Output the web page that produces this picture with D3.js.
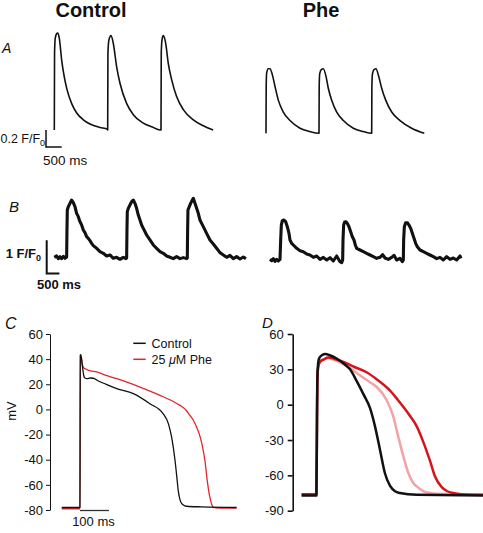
<!DOCTYPE html>
<html><head><meta charset="utf-8">
<script src="https://cdn.jsdelivr.net/npm/d3@7"></script>
<style>
body{margin:0;background:#fff;}
text{font-family:"Liberation Sans",Arial,Helvetica,sans-serif;fill:#111;}
</style></head>
<body><svg id="c" width="483" height="533"></svg>
<script>
// ---------- DATA ----------
const titles = ["Control", "Phe"];
const panelLetters = ["A", "B", "C", "D"];
// Panel A: [time ms, F/F0]
const aControl = [[0,1.0],[8,1.9],[30,2.08],[70,2.13],[108,2.14],[159,2.08],[236,1.82],[287,1.69],[395,1.49],[554,1.31],[713,1.20],[924,1.12],[1137,1.07],[1455,1.03],[1690,1.01],
 [1700,1.0],[1708,1.9],[1740,2.06],[1806,2.11],[1879,2.02],[1987,1.74],[2092,1.55],[2306,1.31],[2516,1.18],[2834,1.08],[3153,1.03],[3390,1.0],
 [3398,1.0],[3406,1.9],[3430,2.06],[3471,2.11],[3548,2.02],[3631,1.78],[3739,1.59],[3898,1.39],[4108,1.24],[4427,1.12],[4745,1.05],[5060,1.0]];
const aPhe = [[0,1.0],[6,1.55],[21,1.71],[73,1.76],[127,1.76],[201,1.69],[287,1.55],[392,1.39],[551,1.25],[764,1.15],[1083,1.06],[1401,1.02],[1685,1.0],
 [1688,1.0],[1694,1.55],[1710,1.70],[1760,1.75],[1825,1.76],[1911,1.67],[1984,1.53],[2092,1.39],[2252,1.25],[2463,1.15],[2780,1.06],[3099,1.02],[3362,1.0],
 [3366,1.0],[3372,1.55],[3390,1.70],[3440,1.75],[3503,1.76],[3589,1.67],[3684,1.53],[3812,1.39],[4003,1.25],[4268,1.15],[4640,1.06],[5041,1.0]];
// Panel B: [time ms, F/F0]
const bControl = [[0,1.0],[92,1.04],[157,0.96],[223,1.02],[289,0.96],[354,1.03],[420,0.97],[486,1.01],[499,1.82],[512,2.42],[551,2.52],[617,2.62],[682,2.72],[748,2.64],[814,2.52],[879,2.32],[945,2.22],[1010,2.07],[1076,1.97],[1142,1.82],[1207,1.74],[1273,1.62],[1339,1.57],[1404,1.50],[1470,1.42],[1535,1.35],[1667,1.27],[1798,1.17],[1929,1.12],[2060,1.04],[2192,1.07],[2323,0.97],[2454,1.0],[2585,0.94],[2717,1.0],[2822,0.96],
 [2848,0.98],[2861,1.82],[2874,2.37],[2913,2.47],[2979,2.57],[3045,2.67],[3110,2.72],[3176,2.62],[3241,2.47],[3307,2.27],[3373,2.12],[3438,1.97],[3504,1.87],[3635,1.67],[3766,1.52],[3898,1.37],[4029,1.27],[4160,1.17],[4291,1.12],[4423,1.04],[4554,1.0],[4685,0.96],[4816,1.02],[4948,0.96],[5079,0.99],[5210,0.96],
 [5236,0.98],[5249,1.82],[5262,2.42],[5315,2.52],[5367,2.62],[5420,2.70],[5472,2.77],[5538,2.62],[5604,2.47],[5669,2.32],[5735,2.12],[5801,2.02],[5866,1.92],[5997,1.72],[6129,1.52],[6260,1.40],[6391,1.27],[6522,1.14],[6654,1.07],[6785,1.0],[6916,1.06],[7047,0.96],[7178,1.02],[7310,0.95],[7441,1.01],[7546,0.96]];
const bPhe = [[0,1.02],[66,0.98],[131,1.04],[197,0.96],[262,1.02],[328,0.97],[394,1.02],[420,1.60],[446,2.05],[486,2.18],[551,2.20],[617,2.15],[682,2.0],[748,1.80],[787,1.60],[853,1.50],[919,1.45],[1050,1.35],[1181,1.28],[1312,1.25],[1444,1.18],[1575,1.15],[1706,1.08],[1837,1.12],[1969,1.02],[2100,1.08],[2231,1.0],[2362,1.07],[2493,0.97],[2625,1.12],[2756,0.95],[2822,0.92],
 [2861,1.0],[2874,1.6],[2900,2.05],[2940,2.14],[2992,2.15],[3045,2.10],[3110,2.0],[3176,1.85],[3241,1.70],[3307,1.60],[3360,1.45],[3412,1.35],[3543,1.30],[3675,1.25],[3806,1.20],[3937,1.15],[4068,1.10],[4199,1.05],[4331,1.08],[4436,1.16],[4528,1.06],[4659,1.02],[4790,1.08],[4882,1.14],[4987,1.0],[5118,1.05],[5210,0.95],
 [5249,1.0],[5262,1.6],[5289,2.0],[5341,2.12],[5407,2.12],[5472,2.05],[5538,1.95],[5604,1.80],[5669,1.65],[5735,1.50],[5801,1.40],[5906,1.30],[6037,1.25],[6168,1.20],[6299,1.15],[6430,1.10],[6562,1.04],[6693,1.08],[6824,1.0],[6955,1.10],[7087,1.02],[7218,1.06],[7349,1.0],[7480,1.12],[7520,1.05]];
// Panel C: [time ms, mV]
const cControl = [[-63,-78],[-1,-78],[0,-78],[1,43],[3,43.5],[8,35],[13,27],[17,25],[25,24.5],[35,25],[46,24.8],[60,23],[90,20],[127,16.5],[184,12.5],[241,4.5],[287,-3.5],[305,-11.5],[316,-22],[328,-41],[334,-54],[339,-65],[345,-72],[351,-75],[360,-76.5],[368,-77],[420,-77.5],[540,-78]];
const cPhe = [[-63,-79],[0,-79],[1,43],[4,42],[8,36],[13,33],[17,32.5],[30,31],[58,29.8],[90,27],[127,24.5],[207,17.8],[276,11.2],[320,6.5],[345,3.2],[365,-0.5],[379,-4.8],[392,-9],[402,-14],[412,-20],[420,-27],[431,-41],[439,-57],[448,-70],[455,-76],[460,-78],[480,-78.5],[540,-78.5]];
const cTicks = [-80,-60,-40,-20,0,20,40,60];
const legendLabels = ["Control", "25 μM Phe"];
// Panel D: [time ms, mV]
const dControl = [[-52,-77],[-1,-77],[1,-20],[2,20],[4,32],[6,37],[10,40],[18,42],[30,43],[45,42],[70,39],[95,34.5],[115,30],[138,20],[161,9],[184,-3],[201,-18.4],[218,-38],[235,-58],[253,-69],[270,-73.5],[287,-75],[345,-76.5],[574,-77]];
const dPheLight = [[-52,-76],[-1,-76],[1,-10],[3,25],[6,33],[12,36.5],[25,38.5],[40,39.6],[60,38],[80,36],[110,32],[149,25],[184,19],[207,15],[241,4],[264,-10],[281,-27],[299,-44],[316,-58],[333,-66.5],[345,-69.4],[368,-73.5],[391,-75],[414,-75.6],[574,-76.5]];
const dPheDark = [[-52,-76],[-1,-76],[1,-10],[3,25],[6,33],[12,36.5],[25,38.5],[40,40],[60,39],[90,36.5],[130,32],[172,27.5],[210,21],[253,12],[280,4],[299,-2],[320,-9],[345,-18.4],[368,-32],[391,-48],[408,-61],[431,-70],[450,-73.5],[471,-75],[500,-76],[574,-76.5]];
const dTicks = [-90,-60,-30,0,30,60];

// ---------- DRAW ----------
const svg = d3.select("#c");
const RED = "#e0262b", DARK = "#d7141c", PINK = "#f3a2a5";

function trace(data, x, y, color, w, smooth) {
  const ln = d3.line().x(d => x(d[0])).y(d => y(d[1]));
  if (smooth) ln.curve(d3.curveMonotoneX);
  svg.append("path").datum(data)
    .attr("d", ln)
    .attr("fill", "none").attr("stroke", color).attr("stroke-width", w)
    .attr("stroke-linejoin", "round").attr("stroke-linecap", "butt");
}

// titles
svg.append("text").attr("x", 91).attr("y", 17).attr("text-anchor", "middle")
  .attr("font-size", 20).attr("font-weight", "bold").text(titles[0]);
svg.append("text").attr("x", 321).attr("y", 17).attr("text-anchor", "middle")
  .attr("font-size", 20).attr("font-weight", "bold").text(titles[1]);

// panel letters
const letterPos = [[2, 53, 14], [9, 212, 15], [5, 329, 16], [262, 328, 15]];
panelLetters.forEach((L, i) => {
  svg.append("text").attr("x", letterPos[i][0]).attr("y", letterPos[i][1])
    .attr("font-size", letterPos[i][2]).attr("font-style", "italic").text(L);
});

// ---- Panel A ----
const axC = d3.scaleLinear().domain([0, 5000]).range([54.3, 211.3]);
const ayC = d3.scaleLinear().domain([1, 2]).range([130, 45]);
const axP = d3.scaleLinear().domain([0, 5000]).range([266, 423]);
const ayP = d3.scaleLinear().domain([1, 2]).range([133.3, 48.3]);
trace(aControl, axC, ayC, "#111", 1.6, true);
trace(aPhe, axP, ayP, "#111", 1.6, true);
// scale bar A: 0.2 F/F0, 500 ms
{
  const x0 = 46, yb = 147;
  const h = ayC(1) - ayC(1.2), w = axC(500) - axC(0);
  svg.append("path").attr("d", `M${x0},${yb - h}V${yb}H${x0 + w}`)
    .attr("fill", "none").attr("stroke", "#111").attr("stroke-width", 1.5);
  const t = svg.append("text").attr("x", 0.5).attr("y", 143).attr("font-size", 12.5);
  t.append("tspan").text("0.2 F/F");
  t.append("tspan").attr("font-size", 9).attr("dy", 3).text("0");
  svg.append("text").attr("x", 43).attr("y", 165).attr("font-size", 13.5).text("500 ms");
}

// ---- Panel B ----
const bxC = d3.scaleLinear().domain([0, 7500]).range([54.3, 244.8]);
const byC = d3.scaleLinear().domain([1, 2]).range([257.3, 224]);
const bxP = d3.scaleLinear().domain([0, 7500]).range([270, 460.5]);
const byP = d3.scaleLinear().domain([1, 2]).range([260, 226.7]);
trace(bControl, bxC, byC, "#111", 3.1, false);
trace(bPhe, bxP, byP, "#111", 3.1, false);
{
  const x0 = 46.7, yb = 273.5;
  const h = byC(1) - byC(2), w = bxC(500) - bxC(0);
  svg.append("path").attr("d", `M${x0},${yb - h}V${yb}H${x0 + w}`)
    .attr("fill", "none").attr("stroke", "#111").attr("stroke-width", 2);
  const t = svg.append("text").attr("x", 41).attr("y", 258).attr("text-anchor", "end")
    .attr("font-size", 13).attr("font-weight", "bold");
  t.append("tspan").text("1 F/F");
  t.append("tspan").attr("font-size", 9).attr("dy", 3).text("0");
  svg.append("text").attr("x", 37).attr("y", 289).attr("font-size", 13).attr("font-weight", "bold").text("500 ms");
}

// ---- Panel C ----
const cx = d3.scaleLinear().domain([-63, 540]).range([61.7, 236.6]);
const cy = d3.scaleLinear().domain([-80, 60]).range([510, 334]);
const cAxis = svg.append("g").attr("transform", "translate(50,0)")
  .call(d3.axisLeft(cy).tickValues(cTicks).tickSize(4).tickSizeOuter(0).tickPadding(3).tickFormat(d => String(d)));
cAxis.selectAll("text").attr("font-size", 13).attr("font-family", null).attr("fill", "#111");
cAxis.selectAll("line,path").attr("stroke", "#111").attr("stroke-width", 1);
svg.append("text").attr("transform", "translate(16,411) rotate(-90)").attr("text-anchor", "middle")
  .attr("font-size", 13).text("mV");
trace(cPhe, cx, cy, RED, 1.3, true);
trace(cControl, cx, cy, "#111", 1.3, true);
// 100 ms bar
svg.append("line").attr("x1", cx(0)).attr("x2", cx(100)).attr("y1", 510.5).attr("y2", 510.5)
  .attr("stroke", "#333").attr("stroke-width", 1.3);
svg.append("text").attr("x", (cx(0) + cx(100)) / 2 - 1).attr("y", 526).attr("text-anchor", "middle")
  .attr("font-size", 13).text("100 ms");
// legend
[[343.3, "#111"], [359.3, RED]].forEach((p, i) => {
  svg.append("line").attr("x1", 133.3).attr("x2", 145.7).attr("y1", p[0]).attr("y2", p[0])
    .attr("stroke", p[1]).attr("stroke-width", 1.5);
});
svg.append("text").attr("x", 151.5).attr("y", 347.5).attr("font-size", 12.5).text(legendLabels[0]);
{
  const t = svg.append("text").attr("x", 151.5).attr("y", 363.5).attr("font-size", 12.5);
  const parts = legendLabels[1].split("μ");
  t.append("tspan").text(parts[0]);
  t.append("tspan").attr("font-style", "italic").text("μ");
  t.append("tspan").text(parts[1]);
}

// ---- Panel D ----
const dx = d3.scaleLinear().domain([-52, 574]).range([301.6, 483.2]);
const dy = d3.scaleLinear().domain([-90, 60]).range([510.7, 334]);
const dAxis = svg.append("g").attr("transform", "translate(292.7,0)")
  .call(d3.axisLeft(dy).tickValues(dTicks).tickSize(5).tickSizeOuter(0).tickPadding(4).tickFormat(d => String(d)));
dAxis.selectAll("text").attr("font-size", 13).attr("font-family", null).attr("fill", "#111");
dAxis.selectAll("line,path").attr("stroke", "#111").attr("stroke-width", 1.6);
trace(dPheLight, dx, dy, PINK, 2.5, true);
trace(dPheDark, dx, dy, DARK, 2.5, true);
trace(dControl, dx, dy, "#111", 2.5, true);
</script></body></html>
